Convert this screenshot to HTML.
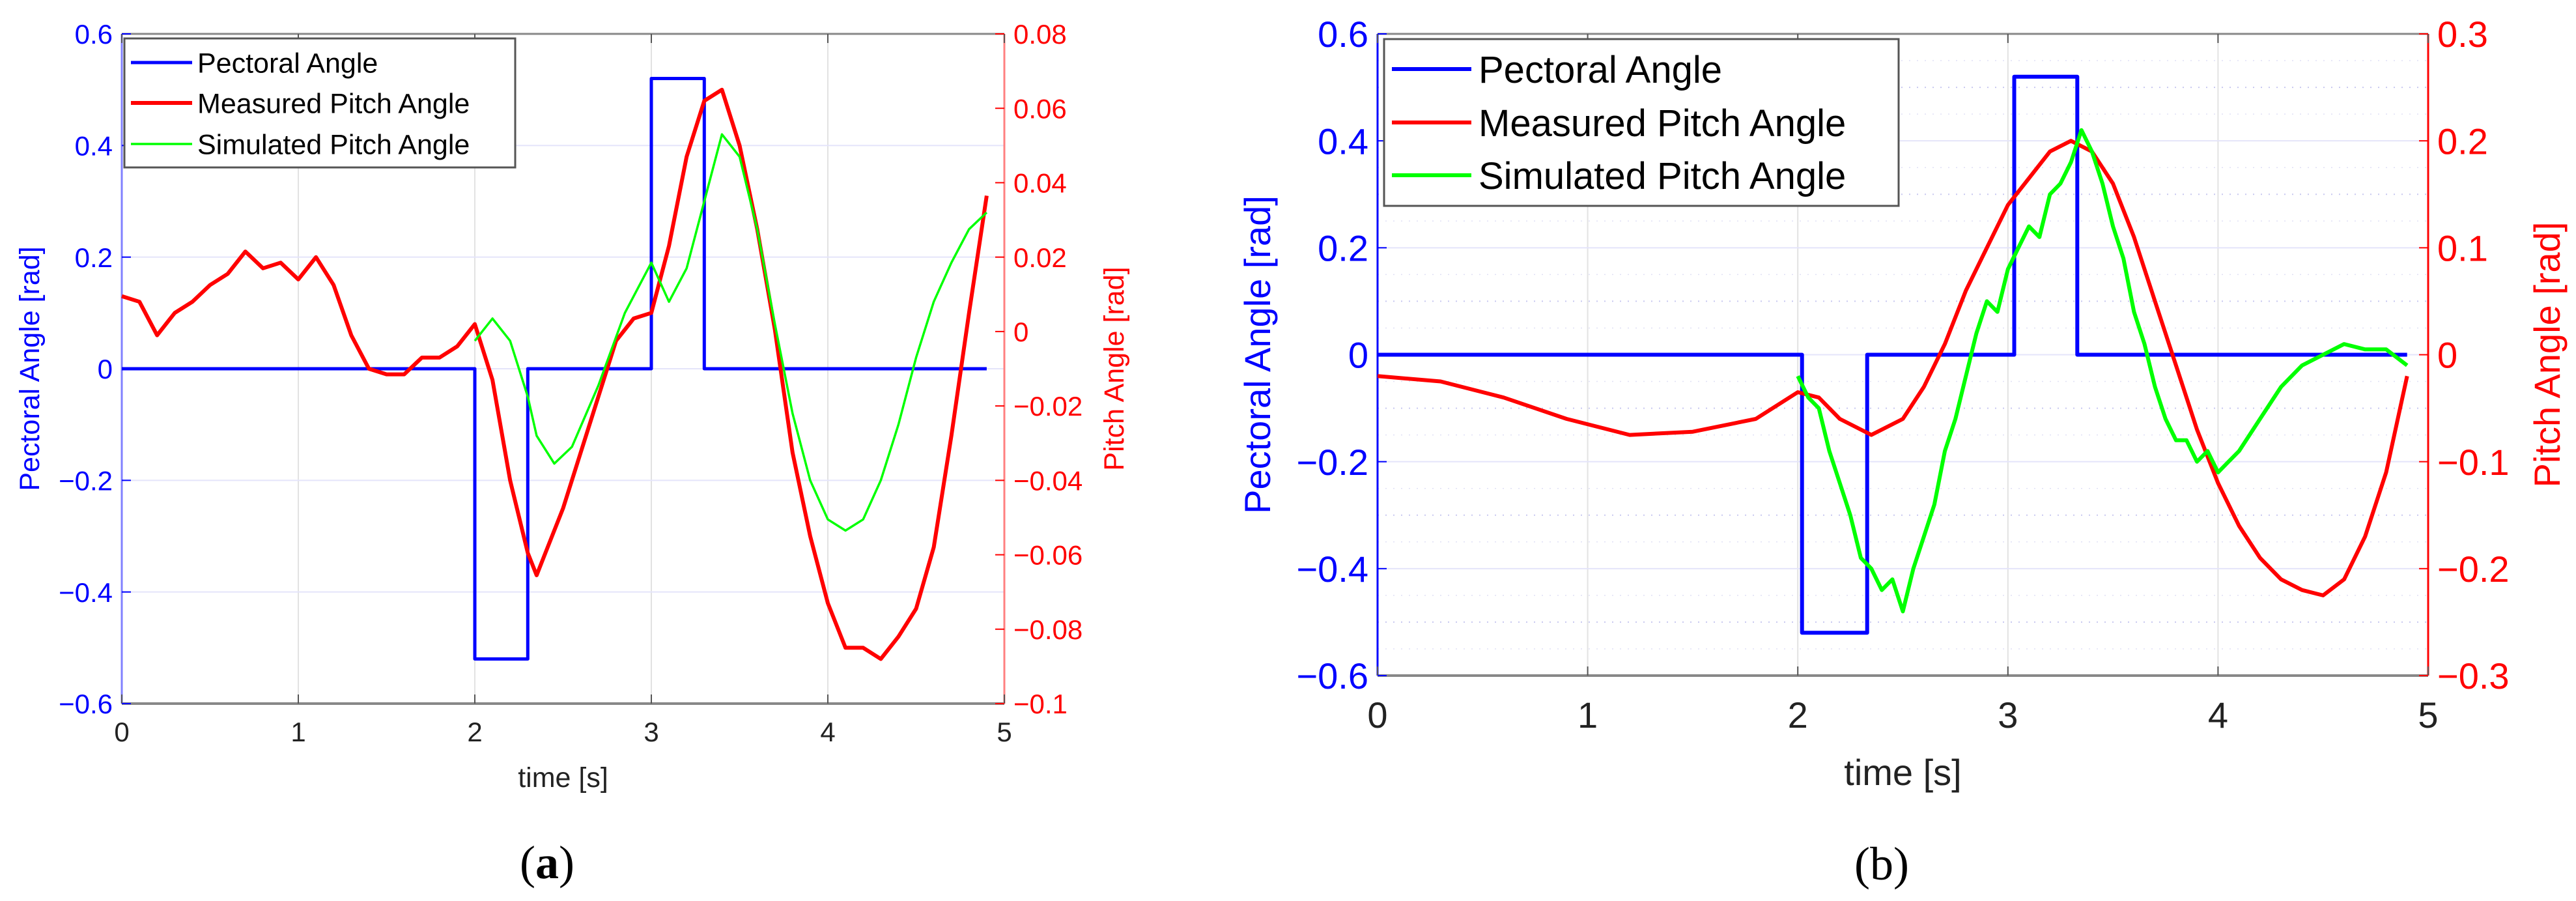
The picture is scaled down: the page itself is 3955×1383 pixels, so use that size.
<!DOCTYPE html>
<html><head><meta charset="utf-8">
<style>
html,body{margin:0;padding:0;background:#fff;}
svg{display:block;font-family:"Liberation Sans",Arial,sans-serif;}
</style></head>
<body>
<svg id="fig" width="3955" height="1383" viewBox="0 0 3955 1383" xmlns="http://www.w3.org/2000/svg"></svg>
<script>
// ---------- Chart (a) data ----------
const aPecT = [0, 2.0, 2.0, 2.3, 2.3, 3.0, 3.0, 3.3, 3.3, 4.9];
const aPecV = [0, 0, -0.52, -0.52, 0, 0, 0.52, 0.52, 0, 0];
const aMeasT = [0,0.1,0.2,0.3,0.4,0.5,0.6,0.7,0.8,0.9,1.0,1.1,1.2,1.3,1.4,1.5,1.6,1.7,1.8,1.9,2.0,2.1,2.2,2.3,2.35,2.4,2.5,2.6,2.7,2.8,2.9,3.0,3.1,3.2,3.3,3.4,3.5,3.6,3.7,3.8,3.9,4.0,4.1,4.2,4.3,4.4,4.5,4.6,4.7,4.8,4.9];
const aMeasV = [0.0095,0.008,-0.001,0.005,0.008,0.0125,0.0155,0.0215,0.017,0.0185,0.014,0.02,0.0125,-0.001,-0.01,-0.0115,-0.0115,-0.007,-0.007,-0.004,0.002,-0.013,-0.04,-0.0595,-0.0655,-0.0595,-0.0475,-0.0325,-0.0175,-0.0025,0.0035,0.005,0.023,0.047,0.062,0.065,0.05,0.0275,0.0005,-0.0325,-0.055,-0.073,-0.085,-0.085,-0.088,-0.082,-0.0745,-0.058,-0.028,0.005,0.0365];
const aSimT = [2.0,2.1,2.2,2.3,2.35,2.45,2.55,2.7,2.85,3.0,3.1,3.2,3.3,3.4,3.5,3.6,3.7,3.8,3.9,4.0,4.1,4.2,4.3,4.4,4.5,4.6,4.7,4.8,4.9];
const aSimV = [-0.0025,0.0035,-0.0025,-0.0175,-0.028,-0.0355,-0.031,-0.0145,0.005,0.0185,0.008,0.017,0.035,0.053,0.047,0.0275,0.002,-0.022,-0.04,-0.0505,-0.0535,-0.0505,-0.04,-0.025,-0.007,0.008,0.0185,0.0275,0.032];
const aXTicks = [0,1,2,3,4,5];
const aLTicks = [-0.6,-0.4,-0.2,0,0.2,0.4,0.6];
const aRTicks = [-0.1,-0.08,-0.06,-0.04,-0.02,0,0.02,0.04,0.06,0.08];
const aRLabels = ["-0.1","-0.08","-0.06","-0.04","-0.02","0","0.02","0.04","0.06","0.08"];

// ---------- Chart (b) data ----------
const bPecT = [0, 2.02, 2.02, 2.33, 2.33, 3.03, 3.03, 3.33, 3.33, 4.9];
const bPecV = [0, 0, -0.52, -0.52, 0, 0, 0.52, 0.52, 0, 0];
const bMeasT = [0,0.3,0.6,0.9,1.2,1.5,1.8,2.0,2.1,2.2,2.35,2.5,2.6,2.7,2.8,2.9,3.0,3.1,3.2,3.3,3.4,3.5,3.6,3.7,3.8,3.9,4.0,4.1,4.2,4.3,4.4,4.5,4.6,4.7,4.8,4.9];
const bMeasV = [-0.02,-0.025,-0.04,-0.06,-0.075,-0.072,-0.06,-0.035,-0.04,-0.06,-0.075,-0.06,-0.03,0.01,0.06,0.1,0.14,0.165,0.19,0.2,0.19,0.16,0.11,0.05,-0.01,-0.07,-0.12,-0.16,-0.19,-0.21,-0.22,-0.225,-0.21,-0.17,-0.11,-0.02];
const bSimT = [2.0,2.05,2.1,2.15,2.2,2.25,2.3,2.35,2.4,2.45,2.5,2.55,2.6,2.65,2.7,2.75,2.8,2.85,2.9,2.95,3.0,3.05,3.1,3.15,3.2,3.25,3.3,3.35,3.4,3.45,3.5,3.55,3.6,3.65,3.7,3.75,3.8,3.85,3.9,3.95,4.0,4.05,4.1,4.2,4.3,4.4,4.5,4.6,4.7,4.8,4.9];
const bSimV = [-0.02,-0.04,-0.05,-0.09,-0.12,-0.15,-0.19,-0.2,-0.22,-0.21,-0.24,-0.2,-0.17,-0.14,-0.09,-0.06,-0.02,0.02,0.05,0.04,0.08,0.1,0.12,0.11,0.15,0.16,0.18,0.21,0.19,0.16,0.12,0.09,0.04,0.01,-0.03,-0.06,-0.08,-0.08,-0.1,-0.09,-0.11,-0.1,-0.09,-0.06,-0.03,-0.01,0.0,0.01,0.005,0.005,-0.01];
const bXTicks = [0,1,2,3,4,5];
const bLTicks = [-0.6,-0.4,-0.2,0,0.2,0.4,0.6];
const bRTicks = [-0.3,-0.2,-0.1,0,0.1,0.2,0.3];

const NS = "http://www.w3.org/2000/svg";
const svg = document.getElementById('fig');
function mk(tag, attrs, parent, text){
  const e = document.createElementNS(NS, tag);
  for (const k in attrs) e.setAttribute(k, attrs[k]);
  if (text !== undefined) e.textContent = text;
  (parent || svg).appendChild(e);
  return e;
}
function fmt(v){ return v < 0 ? "\u2212" + String(Math.abs(v)) : String(v); }

function chart(cfg){
  const g = mk('g', {});
  
  
  const {x0,x1,y0,y1,lmin,lmax,rmin,rmax} = cfg;
  const sx = t => x0 + (t / 5) * (x1 - x0);
  const syL = v => y1 - (v - lmin) / (lmax - lmin) * (y1 - y0);
  const syR = v => y1 - (v - rmin) / (rmax - rmin) * (y1 - y0);
  if (cfg.minor) {
    for (let v = lmin + 0.1; v < lmax - 0.01; v += 0.2) {
      const ml = mk('line', {x1:x0, x2:x1, y1:syL(v), y2:syL(v), stroke:'#c8c8f0', 'stroke-width':2, 'stroke-dasharray':'2 10'}, g);
      
      
    }
    for (let v = lmin + 0.05; v < lmax; v += 0.1) {
      const ml = mk('line', {x1:x0, x2:x1, y1:syL(v), y2:syL(v), stroke:'#e0e0f5', 'stroke-width':1.5, 'stroke-dasharray':'2 10'}, g);
      
      
    }
  }
  cfg.xTicks.forEach(t => {
    const gl = mk('line', {x1:sx(t), x2:sx(t), y1:y0, y2:y1, stroke:'#e2e2e2', 'stroke-width':2}, g);
    
    
  });
  cfg.lTicks.forEach(v => {
    const gl = mk('line', {x1:x0, x2:x1, y1:syL(v), y2:syL(v), stroke:'#e4e4fa', 'stroke-width':2}, g);
    
    
  });
  const top = mk('line', {x1:x0, x2:x1, y1:y0, y2:y0, stroke:'#888', 'stroke-width':3}, g);
  
  
  const bot = mk('line', {x1:x0, x2:x1, y1:y1, y2:y1, stroke:'#888', 'stroke-width':4}, g);
  
  
  const la = mk('line', {x1:x0, x2:x0, y1:y0, y2:y1, stroke:cfg.lAxisColor, 'stroke-width':3}, g);
  
  
  const ra = mk('line', {x1:x1, x2:x1, y1:y0, y2:y1, stroke:cfg.rAxisColor, 'stroke-width':3}, g);
  
  
  cfg.xTicks.forEach(t => {
    mk('line', {x1:sx(t), x2:sx(t), y1:y1, y2:y1-14, stroke:'#555', 'stroke-width':2}, g);
    mk('line', {x1:sx(t), x2:sx(t), y1:y0, y2:y0+14, stroke:'#555', 'stroke-width':2}, g);
    const tl = mk('text', {x:sx(t), y:cfg.xLabelY, 'font-size':cfg.fs, 'text-anchor':'middle', fill:'#222'}, g, String(t));
    
    
  });
  cfg.lTicks.forEach(v => {
    mk('line', {x1:x0, x2:x0+14, y1:syL(v), y2:syL(v), stroke:'#00f', 'stroke-width':2}, g);
    const tl = mk('text', {x:x0-14, y:syL(v)+cfg.fs*0.36, 'font-size':cfg.fs, 'text-anchor':'end', fill:'#00f'}, g, fmt(v));
    
    
  });
  cfg.rTicks.forEach((v,i) => {
    mk('line', {x1:x1, x2:x1-14, y1:syR(v), y2:syR(v), stroke:'#f00', 'stroke-width':2}, g);
    const lab = cfg.rLabels ? cfg.rLabels[i].replace('-', '\u2212') : fmt(v);
    const tl = mk('text', {x:x1+14, y:syR(v)+cfg.fs*0.36, 'font-size':cfg.fs, 'text-anchor':'start', fill:'#f00'}, g, lab);
    
    
  });
  function path(ts, vs, sy, color, w, name){
    const d = ts.map((t,i) => (i ? 'L' : 'M') + sx(t).toFixed(1) + ' ' + sy(vs[i]).toFixed(1)).join(' ');
    const p = mk('path', {d, fill:'none', stroke:color, 'stroke-width':w, 'stroke-linejoin':'round'}, g);
    
    
  }
  path(cfg.pecT, cfg.pecV, syL, '#0000ff', cfg.wBlue, 'pectoral-angle-line');
  path(cfg.measT, cfg.measV, syR, '#ff0000', cfg.wRed, 'measured-pitch-line');
  path(cfg.simT, cfg.simV, syR, '#00ff00', cfg.wGreen, 'simulated-pitch-line');
  const xt = mk('text', {x:(x0+x1)/2, y:cfg.xTitleY, 'font-size':cfg.tfs, 'text-anchor':'middle', fill:'#222'}, g, 'time [s]');
  
  
  const yl = mk('text', {x:0, y:0, 'font-size':cfg.tfs, 'text-anchor':'middle', fill:'#00f', transform:`translate(${cfg.lTitleX},${(y0+y1)/2}) rotate(-90)`}, g, 'Pectoral Angle [rad]');
  
  
  const yr = mk('text', {x:0, y:0, 'font-size':cfg.tfs, 'text-anchor':'middle', fill:'#f00', transform:`translate(${cfg.rTitleX},${(y0+y1)/2}) rotate(-90)`}, g, 'Pitch Angle [rad]');
  
  
  const L = cfg.leg;
  const lg = mk('g', {}, g);
  
  
  mk('rect', {x:L.x, y:L.y, width:L.w, height:L.h, fill:'#fff', stroke:'#555', 'stroke-width':3}, lg);
  const names = ['Pectoral Angle','Measured Pitch Angle','Simulated Pitch Angle'];
  const cols = ['#0000ff','#ff0000','#00ff00'];
  const ws = [cfg.wBlue, cfg.wRed, cfg.wGreen];
  names.forEach((n,i) => {
    const yy = L.rows[i];
    const ln = mk('line', {x1:L.lx0, x2:L.lx1, y1:yy, y2:yy, stroke:cols[i], 'stroke-width':ws[i]}, lg);
    
    
    const tx = mk('text', {x:L.tx, y:yy+L.fs*0.36, 'font-size':L.fs, fill:'#000'}, lg, n);
    
    
  });
  const cap = mk('text', {x:cfg.capX, y:cfg.capY, 'font-size':72, 'text-anchor':'middle', fill:'#000', 'font-family':'"Liberation Serif", serif'}, g);
  
  
  mk('tspan', {}, cap, '(');
  mk('tspan', {'font-weight': cfg.capBold ? 'bold' : 'normal'}, cap, cfg.capLetter);
  mk('tspan', {}, cap, ')');
}

chart({name:'chart-a', x0:187, x1:1542, y0:52, y1:1080, lmin:-0.6, lmax:0.6, rmin:-0.1, rmax:0.08,
  xTicks:aXTicks, lTicks:aLTicks, rTicks:aRTicks, rLabels:aRLabels, lAxisColor:'#8080ff', rAxisColor:'#ff8080',
  fs:42, tfs:43, xLabelY:1138, xTitleY:1208, lTitleX:60, rTitleX:1725,
  pecT:aPecT, pecV:aPecV, measT:aMeasT, measV:aMeasV, simT:aSimT, simV:aSimV,
  wBlue:5, wRed:6, wGreen:3.5, minor:false,
  leg:{x:191, y:59, w:600, h:198, rows:[96,158,221], lx0:201, lx1:295, tx:303, fs:43},
  capX:840, capY:1348, capLetter:'a', capBold:true});

chart({name:'chart-b', x0:2115, x1:3728, y0:52, y1:1037, lmin:-0.6, lmax:0.6, rmin:-0.3, rmax:0.3,
  xTicks:bXTicks, lTicks:bLTicks, rTicks:bRTicks, lAxisColor:'#0000ff', rAxisColor:'#ff0000',
  fs:56, tfs:56, xLabelY:1117, xTitleY:1205, lTitleX:1950, rTitleX:3930,
  pecT:bPecT, pecV:bPecV, measT:bMeasT, measV:bMeasV, simT:bSimT, simV:bSimV,
  wBlue:6, wRed:6, wGreen:6, minor:true,
  leg:{x:2125, y:60, w:790, h:256, rows:[106,188,269], lx0:2137, lx1:2259, tx:2270, fs:58},
  capX:2889, capY:1350, capLetter:'b', capBold:false});
</script>
</body></html>
